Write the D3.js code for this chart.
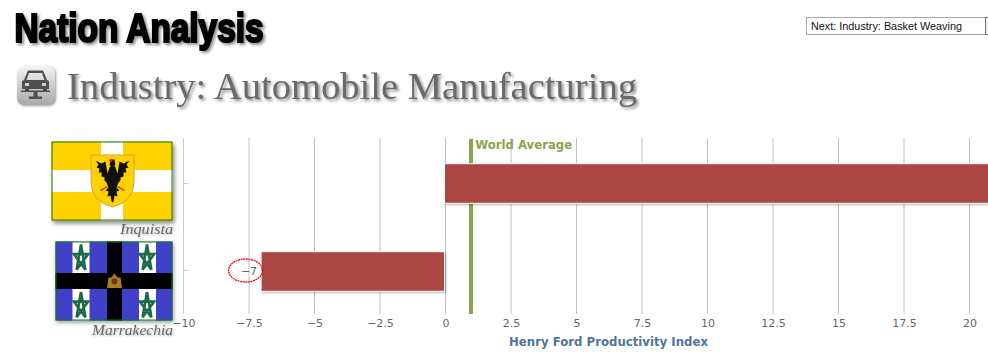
<!DOCTYPE html>
<html><head><meta charset="utf-8">
<script src="https://cdn.jsdelivr.net/npm/d3@7/dist/d3.min.js"></script>
<style>
html,body{margin:0;padding:0;background:#fff;overflow:hidden;width:988px;height:352px}
svg{position:absolute;left:0;top:0}
.shadow{filter:drop-shadow(2px 2px 1.5px rgba(0,0,0,.45))}
</style></head><body>
<svg id="c" width="988" height="352"></svg>
<script>
const nations = ["Inquista", "Marrakechia"];
const values = [25, -7];
const worldAverage = 1;
const xTicks = [-10, -7.5, -5, -2.5, 0, 2.5, 5, 7.5, 10, 12.5, 15, 17.5, 20];
const pageTitle = "Nation Analysis";
const industryTitle = "Industry: Automobile Manufacturing";
const nextLabel = "Next: Industry: Basket Weaving";
const axisTitle = "Henry Ford Productivity Index";
const averageLabel = "World Average";
const flagLabelWidths = [53, 81];

const svg = d3.select("#c");
const defs = svg.append("defs");
const grad = defs.append("linearGradient").attr("id","icon").attr("x1",0).attr("x2",0).attr("y1",0).attr("y2",1);
grad.append("stop").attr("offset",0).attr("stop-color","#f4f4f4");
grad.append("stop").attr("offset",1).attr("stop-color","#a8a8a8");
const fs = defs.append("filter").attr("id","barShadow").attr("x","-5%").attr("y","-20%").attr("width","110%").attr("height","150%");
fs.append("feDropShadow").attr("dx",1).attr("dy",1).attr("stdDeviation",1.2).attr("flood-color","#000").attr("flood-opacity",.3);

// Page headings
svg.append("text").attr("class","shadow")
  .attr("x",14.5).attr("y",42).attr("font-family","'Liberation Sans Narrow','Liberation Sans',sans-serif")
  .attr("font-weight",700).attr("font-size",40).attr("fill","#000").attr("stroke","#000").attr("stroke-width",2.2)
  .attr("stroke-linejoin","miter")
  .attr("textLength",249).attr("lengthAdjust","spacingAndGlyphs").text(pageTitle);

const icon = svg.append("g").attr("transform","translate(17,66)");
icon.append("rect").attr("width",38).attr("height",39).attr("rx",7).attr("fill","url(#icon)")
  .style("filter","drop-shadow(1px 1px 1px rgba(0,0,0,.4))");
icon.append("path").attr("fill","#4f4f4f").attr("fill-rule","evenodd")
  .attr("d","M11 4.500 H26 L30 14 L32 15 V23 H30 V25 H26 V23 H12 V25 H8 V23 H5 V15 L7 14 Z M12 7 L9.500 14 H27.500 L25 7 Z M8 17 V20 H12 V17 Z M25 17 V20 H29 V17 Z");
icon.append("rect").attr("x",4).attr("y",24.5).attr("width",29).attr("height",1.500).attr("fill","#4f4f4f");
icon.append("path").attr("fill","#4f4f4f").attr("d","M16.500 26 H20.500 V30.500 H25 V33 H12 V30.500 H16.500 Z");

svg.append("text").attr("class","shadow")
  .attr("x",67).attr("y",98.5).attr("font-family","'Liberation Serif',Georgia,serif")
  .attr("font-size",37).attr("fill","#6a6a6a")
  .attr("textLength",570).attr("lengthAdjust","spacingAndGlyphs").text(industryTitle);

// Select box
const sel = svg.append("g");
sel.append("rect").attr("x",806.5).attr("y",17.5).attr("width",180).attr("height",17).attr("fill","#fff").attr("stroke","#a5a5ad");
sel.append("rect").attr("x",985.5).attr("y",17.5).attr("width",6).attr("height",17).attr("fill","#eee").attr("stroke","#777");
sel.append("text").attr("x",811).attr("y",30).attr("font-family","'Liberation Sans',Arial,sans-serif")
  .attr("font-size",11).attr("fill","#111")
  .attr("textLength",151).attr("lengthAdjust","spacingAndGlyphs").text(nextLabel);

// Chart
const x = d3.scaleLinear().domain([-10,20]).range([183.5,969.5]);
const y = d3.scaleBand().domain(nations).range([139.5,315.5]).paddingInner(.55).paddingOuter(.275);
const plotTop = 138, plotBottom = 314;

const gx = svg.append("g").attr("transform",`translate(0,${plotBottom})`)
  .call(d3.axisBottom(x).tickValues(xTicks).tickFormat(d3.format("~g")).tickSize(0).tickPadding(5));
gx.select(".domain").remove();
gx.selectAll("text").attr("font-family","'DejaVu Sans',Verdana,sans-serif").attr("font-size",11).attr("fill","#666");

svg.append("g").selectAll("line").data(xTicks.slice(1)).join("line")
  .attr("x1",d=>x(d)).attr("x2",d=>x(d)).attr("y1",plotTop).attr("y2",plotBottom)
  .attr("stroke","#c0c0c0").attr("stroke-width",1);

// Category axis line and ticks
svg.append("line").attr("x1",x(-10)).attr("x2",x(-10)).attr("y1",plotTop).attr("y2",plotBottom).attr("stroke","#c0d0e0");
svg.append("g").selectAll("line").data(nations).join("line")
  .attr("x1",x(-10)).attr("x2",x(-10)+5)
  .attr("y1",(d,i)=>y(d)+y.bandwidth()/2-i).attr("y2",(d,i)=>y(d)+y.bandwidth()/2-i)
  .attr("stroke","#c0d0e0");

// Average line
svg.append("rect").attr("x",x(worldAverage)-2.7).attr("y",plotTop+1).attr("width",4).attr("height",plotBottom-plotTop-1).attr("fill","#89a54e");
svg.append("text").attr("x",x(worldAverage)+3.5).attr("y",149).attr("font-family","'DejaVu Sans',Verdana,sans-serif")
  .attr("font-weight",700).attr("font-size",11.500).attr("fill","#89a54e")
  .attr("textLength",97).attr("lengthAdjust","spacingAndGlyphs").text(averageLabel);

// Bars
svg.append("g").attr("transform","translate(-1,0)").selectAll("rect").data(values).join("rect")
  .attr("x",d=>x(Math.min(0,d))).attr("y",(d,i)=>y(nations[i]))
  .attr("width",d=>Math.abs(x(d)-x(0))).attr("height",y.bandwidth())
  .attr("fill","#aa4643").attr("stroke","#fff").attr("stroke-width",1)
  .attr("filter","url(#barShadow)");

// Data label for the negative bar
const neg = values[1];
const negMid = y(nations[1])+y.bandwidth()/2;
svg.append("text").attr("x",x(neg)-5).attr("y",negMid+3.500)
  .attr("text-anchor","end").attr("font-family","'DejaVu Sans',Verdana,sans-serif")
  .attr("font-size",11).attr("fill","#666").text(d3.format("~g")(neg));
svg.append("ellipse").attr("cx",x(neg)-16.5).attr("cy",negMid-1)
  .attr("rx",17).attr("ry",11.500).attr("fill","none").attr("stroke","#ff0000").attr("stroke-width",1.3).attr("stroke-dasharray","2 .6");

// Axis title
svg.append("text").attr("x",608.5).attr("y",346).attr("text-anchor","middle")
  .attr("font-family","'DejaVu Sans',Verdana,sans-serif").attr("font-weight",700).attr("font-size",11.500).attr("fill","#4d759e")
  .attr("textLength",199).attr("lengthAdjust","spacingAndGlyphs").text(axisTitle);

// Flag labels
svg.append("g").selectAll("text").data(nations).join("text")
  .attr("x",173).attr("y",(d,i)=>i===0?234:335).attr("text-anchor","end")
  .attr("font-family","'Liberation Serif',Georgia,serif").attr("font-style","italic").attr("font-size",15)
  .attr("fill","#666").style("filter","drop-shadow(1px 1px 1px rgba(0,0,0,.3))")
  .attr("textLength",(d,i)=>flagLabelWidths[i]).attr("lengthAdjust","spacingAndGlyphs").text(d=>d);

// Flag 1
const f1 = svg.append("g").attr("transform","translate(51.5,141.5)");
f1.append("rect").attr("width",121).attr("height",79).attr("fill","#ffd200").style("filter","drop-shadow(2px 3px 2px rgba(0,0,0,.45))");
f1.append("rect").attr("x",0).attr("y",28.5).attr("width",121).attr("height",22).attr("fill","#fff");
f1.append("rect").attr("x",49.5).attr("y",0).attr("width",22).attr("height",79).attr("fill","#fff");
f1.append("path").attr("d","M39.500 13.500 H82.500 V40 Q82.500 60 61 65.500 Q39.500 60 39.500 40 Z").attr("fill","#ffd200").attr("stroke","#c9a93f").attr("stroke-width",1);
f1.append("path").attr("fill","#111").attr("d","M61 22 L64 26 L66 32 L68 20 L72 22 L78 19 L75 23 L77 26 L74 27 L75 31 L72 31 L72 35 L69 36 L69 39 L67 41 L65 46 L68 49 L65 50 L66 55 L63 54 L62 60 L61 61 L60 60 L59 54 L56 55 L57 50 L54 49 L57 46 L55 41 L53 39 L53 36 L50 35 L50 31 L47 31 L48 27 L45 26 L47 23 L44 19 L50 22 L54 20 L56 32 L58 26 Z");
f1.append("path").attr("fill","#111").attr("d","M59 18 H63 L64 24 H58 Z");
f1.append("path").attr("fill","none").attr("stroke","#d0492a").attr("stroke-width",1.5).attr("d","M49 49 L56 45 M73 49 L66 45");
f1.append("circle").attr("cx",59.5).attr("cy",19).attr("r",1.7).attr("fill","#c8202a");
f1.append("rect").attr("x",.5).attr("y",.5).attr("width",120).attr("height",78).attr("fill","none").attr("stroke","#0a7a0a");

// Flag 2
const f2 = svg.append("g").attr("transform","translate(55.5,241.5)");
f2.append("rect").attr("width",117).attr("height",79).attr("fill","#4040c8").style("filter","drop-shadow(1px 2px 2px rgba(0,0,0,.4))");
f2.append("g").selectAll("rect").data([17,83.5]).join("rect").attr("x",d=>d).attr("y",0).attr("width",17).attr("height",79).attr("fill","#fff");
f2.append("rect").attr("x",0).attr("y",31.5).attr("width",117).attr("height",16).attr("fill","#000");
f2.append("rect").attr("x",51.5).attr("y",0).attr("width",15).attr("height",79).attr("fill","#000");
const star = d3.range(6).map(i=>{const a=-Math.PI/2+i*4*Math.PI/5;return [7.5*Math.cos(a),14*Math.sin(a)+1];});
[[25.5,16],[91.5,16],[25.5,63.5],[91.5,63.5]].forEach(p=>{
  f2.append("path").attr("transform",`translate(${p[0]},${p[1]})`).attr("d",d3.line()(star))
    .attr("fill","none").attr("stroke","#1a6b4a").attr("stroke-width",2.6);
});
f2.append("path").attr("d","M51.500 46.500 L53 36 L56 36 L59 32 L62 36 L65 36 L66.500 46.500 Z").attr("fill","#a87e22");
f2.append("circle").attr("cx",59).attr("cy",40).attr("r",3).attr("fill","#6a3520");
f2.append("rect").attr("x",.5).attr("y",.5).attr("width",116).attr("height",78).attr("fill","none").attr("stroke","#0a7a0a");
</script>
</body></html>
